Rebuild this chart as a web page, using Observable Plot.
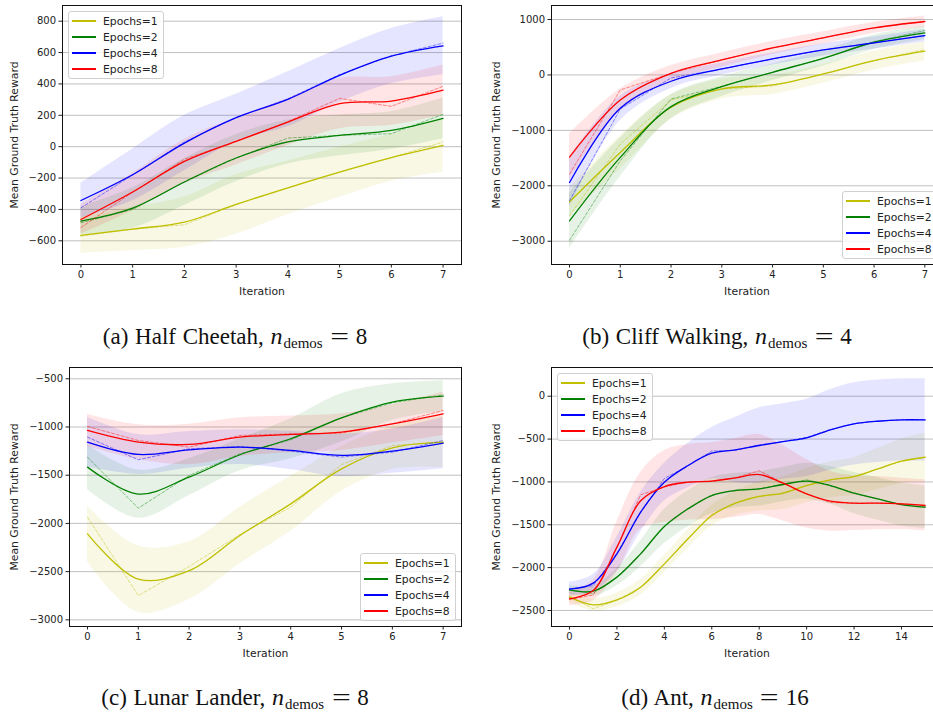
<!DOCTYPE html>
<html><head><meta charset="utf-8">
<script src="https://cdn.jsdelivr.net/npm/d3@7"></script>
<script src="https://cdn.jsdelivr.net/npm/@observablehq/plot@0.6"></script>
<style>
html,body{margin:0;padding:0;background:#fff;width:933px;height:713px;overflow:hidden;}
#root{position:relative;width:933px;height:713px;overflow:hidden;}
.panel{position:absolute;height:300px;}
.panel > svg{max-width:none !important;display:block;}
.legend{position:absolute;background:rgba(255,255,255,0.8);border:1px solid #d0d0d0;border-radius:3px;font-family:"DejaVu Sans";font-size:10.8px;color:#222;box-sizing:border-box;}
.legend .row{position:absolute;left:3px;height:16px;display:flex;align-items:center;white-space:nowrap;}
.legend svg{margin-right:7px;}
.caption{position:absolute;font-family:"Liberation Serif","Times New Roman",serif;font-size:23px;line-height:23px;word-spacing:1px;white-space:nowrap;transform:translateX(-50%);color:#111;}
.caption sub{font-size:15px;line-height:0;vertical-align:-4px;margin-left:1px;}
.caption i{font-style:italic;font-size:24px;}
.caption .eq{display:inline-block;width:20px;margin:0 6px 0 7px;text-align:center;transform:scaleX(1.45);}
</style></head><body><div id="root"></div><script>
// ---------- data ----------
const seriesNames = ["Epochs=1", "Epochs=2", "Epochs=4", "Epochs=8"];
const seriesColors = ["#bfbf00", "#008000", "#0000ff", "#ff0000"];

const xTicks8 = [0, 1, 2, 3, 4, 5, 6, 7];
const xTicksAnt = [0, 2, 4, 6, 8, 10, 12, 14];
const iters8 = [0, 1, 2, 3, 4, 5, 6, 7];
const itersAnt = [0, 1, 2, 3, 4, 5, 6, 7, 8, 9, 10, 11, 12, 13, 14, 15];

// (a) Half Cheetah
const hcYTicks = [-600, -400, -200, 0, 200, 400, 600, 800];
const hc1Smooth = [-566, -525, -481, -368, -262, -162, -70, 8];
const hc1Raw = [-570, -525, -498, -370, -262, -162, -70, 30];
const hc1Std = [114, 137, 160, 190, 170, 160, 150, 170];
const hc2Smooth = [-474, -391, -225, -72, 30, 72, 104, 181];
const hc2Raw = [-485, -400, -225, -72, 55, 72, 83, 206];
const hc2Std = [90, 130, 150, 150, 140, 130, 120, 130];
const hc4Smooth = [-343, -179, 23, 185, 302, 455, 577, 643];
const hc4Raw = [-390, -180, 30, 185, 305, 460, 580, 660];
const hc4Std = [111, 165, 177, 150, 175, 171, 176, 185];
const hc8Smooth = [-464, -289, -94, 34, 157, 274, 291, 360];
const hc8Raw = [-515, -290, -80, 35, 160, 308, 257, 385];
const hc8Std = [95, 120, 140, 150, 150, 160, 155, 160];

// (b) Cliff Walking
const cwYTicks = [-3000, -2000, -1000, 0, 1000];
const cw1Smooth = [-2289, -1398, -584, -253, -181, 18, 259, 428];
const cw1Raw = [-2542, -1247, -452, -253, -200, 18, 259, 458];
const cw1Std = [250, 300, 220, 180, 170, 170, 170, 170];
const cw2Smooth = [-2633, -1488, -572, -211, 48, 301, 590, 759];
const cw2Raw = [-2982, -1548, -434, -205, 48, 301, 600, 800];
const cw2Std = [500, 350, 220, 180, 150, 140, 130, 120];
const cw4Smooth = [-1940, -602, -114, 108, 289, 452, 578, 711];
const cw4Raw = [-2271, -614, -54, 108, 289, 452, 578, 711];
const cw4Std = [450, 220, 130, 110, 110, 110, 110, 110];
const cw8Smooth = [-1482, -452, 30, 271, 488, 669, 849, 964];
const cw8Raw = [-1789, -271, 30, 271, 488, 669, 849, 964];
const cw8Std = [420, 200, 140, 130, 120, 110, 100, 100];

// (c) Lunar Lander
const llYTicks = [-3000, -2500, -2000, -1500, -1000, -500];
const ll1Smooth = [-2108, -2578, -2490, -2125, -1797, -1434, -1216, -1157];
const ll1Raw = [-1935, -2748, -2447, -2115, -1831, -1389, -1192, -1157];
const ll1Std = [290, 345, 300, 293, 285, 233, 225, 268];
const ll2Smooth = [-1416, -1696, -1520, -1288, -1122, -905, -742, -680];
const ll2Raw = [-1313, -1842, -1503, -1278, -1133, -905, -749, -666];
const ll2Std = [233, 250, 190, 165, 207, 250, 190, 160];
const ll4Smooth = [-1157, -1285, -1237, -1209, -1243, -1295, -1250, -1167];
const ll4Raw = [-1105, -1340, -1226, -1202, -1250, -1312, -1261, -1140];
const ll4Std = [259, 207, 190, 180, 200, 220, 230, 265];
const ll8Smooth = [-1036, -1157, -1181, -1105, -1077, -1053, -967, -863];
const ll8Raw = [-994, -1140, -1209, -1088, -1071, -1064, -967, -829];
const ll8Std = [165, 180, 210, 200, 190, 190, 200, 225];

// (d) Ant
const antYTicks = [-2500, -2000, -1500, -1000, -500, 0];
const ant1Smooth = [-2345, -2434, -2376, -2228, -1956, -1664, -1392, -1248, -1170, -1131, -1042, -976, -937, -848, -758, -712];
const ant1Raw = [-2330, -2480, -2380, -2230, -1960, -1660, -1380, -1250, -1170, -1140, -1040, -975, -935, -850, -760, -712];
const ant1Std = [60, 70, 80, 90, 100, 110, 120, 140, 170, 190, 200, 210, 220, 240, 260, 280];
const ant2Smooth = [-2259, -2275, -2111, -1839, -1520, -1314, -1159, -1100, -1081, -1030, -991, -1042, -1131, -1198, -1264, -1295];
const ant2Raw = [-2260, -2300, -2110, -1840, -1520, -1310, -1150, -1100, -1080, -1030, -975, -1045, -1130, -1200, -1265, -1295];
const ant2Std = [50, 60, 100, 150, 200, 210, 210, 200, 200, 200, 210, 220, 240, 250, 250, 250];
const ant4Smooth = [-2251, -2181, -1839, -1353, -1003, -809, -665, -626, -575, -529, -486, -393, -323, -292, -276, -276];
const ant4Raw = [-2250, -2210, -1830, -1360, -960, -810, -640, -630, -570, -530, -480, -390, -320, -290, -276, -276];
const ant4Std = [80, 100, 200, 230, 220, 260, 300, 380, 440, 440, 450, 470, 480, 480, 480, 480];
const ant8Smooth = [-2364, -2267, -1761, -1220, -1054, -1003, -991, -953, -914, -1015, -1139, -1225, -1248, -1248, -1256, -1275];
const ant8Raw = [-2370, -2320, -1760, -1150, -1060, -1000, -990, -950, -870, -1010, -1140, -1240, -1248, -1248, -1256, -1275];
const ant8Std = [80, 120, 300, 330, 420, 440, 450, 460, 467, 440, 400, 350, 320, 310, 300, 300];

// ---------- drawing ----------
const root = document.getElementById("root");
const fmt = d => d < 0 ? "\u2212" + (-d) : String(d);

function buildSeries(iters, smooths, raws, stds) {
  return seriesNames.map((name, k) => ({
    name, color: seriesColors[k],
    rows: iters.map((it, i) => ({
      it, sm: smooths[k][i], raw: raws[k][i],
      lo: smooths[k][i] - stds[k][i], hi: smooths[k][i] + stds[k][i]
    }))
  }));
}

function panel(cfg) {
  const marks = [Plot.gridY(cfg.yTicks, {stroke: "#b0b0b0", strokeOpacity: 1, strokeWidth: 0.8})];
  for (const s of cfg.series) {
    marks.push(Plot.areaY(s.rows, {x: "it", y1: "lo", y2: "hi", fill: s.color, fillOpacity: 0.1, curve: "catmull-rom"}));
  }
  for (const s of cfg.series) {
    marks.push(Plot.lineY(s.rows, {x: "it", y: "raw", stroke: s.color, strokeOpacity: 0.45, strokeWidth: 1, strokeDasharray: "3,2"}));
    marks.push(Plot.lineY(s.rows, {x: "it", y: "sm", stroke: s.color, strokeWidth: 1.3, curve: "catmull-rom"}));
  }
  marks.push(Plot.frame({stroke: "#111", strokeWidth: 1}));
  marks.push(Plot.axisX(cfg.xTicks, {tickSize: 3.5, tickPadding: 3, label: null, tickFormat: fmt}));
  marks.push(Plot.axisY(cfg.yTicks, {tickSize: 3.5, tickPadding: 3, label: null, tickFormat: fmt}));
  marks.push(Plot.text(["Iteration"], {text: d => d, frameAnchor: "bottom", dy: 27, textAnchor: "middle", lineAnchor: "middle", fontSize: 10.8, fill: "#222"}));
  marks.push(Plot.text(["Mean Ground Truth Reward"], {text: d => d, frameAnchor: "left", dx: cfg.labelDx, rotate: -90, textAnchor: "middle", lineAnchor: "middle", fontSize: 10.8, fill: "#222"}));
  const svg = Plot.plot({
    width: cfg.width, height: cfg.height,
    marginLeft: cfg.mL, marginRight: cfg.mR, marginTop: cfg.mT, marginBottom: cfg.mB,
    x: {domain: cfg.xDomain},
    y: {domain: cfg.yDomain},
    style: {fontFamily: "DejaVu Sans", fontSize: "10px", color: "#222", background: "transparent", overflow: "visible", maxWidth: "none"},
    marks
  });
  const div = document.createElement("div");
  div.className = "panel";
  div.style.left = cfg.left + "px";
  div.style.top = cfg.top + "px";
  div.style.width = cfg.width + "px";
  div.appendChild(svg);
  root.appendChild(div);
}

function legend(left, top) {
  const box = document.createElement("div");
  box.className = "legend";
  box.style.left = left + "px";
  box.style.top = top + "px";
  box.style.width = "96px";
  box.style.height = "68px";
  seriesNames.forEach((name, k) => {
    const row = document.createElement("div");
    row.className = "row";
    row.style.top = (1 + 16 * k) + "px";
    row.innerHTML = `<svg width="24" height="4"><line x1="0" y1="2" x2="24" y2="2" stroke="${seriesColors[k]}" stroke-width="2"/></svg><span>${name}</span>`;
    box.appendChild(row);
  });
  root.appendChild(box);
}

function caption(cx, baseline, html) {
  const d = document.createElement("div");
  d.className = "caption";
  d.style.left = cx + "px";
  d.style.top = (baseline - 19.3) + "px";
  d.innerHTML = html;
  root.appendChild(d);
}

panel({left: 0, top: 0, width: 466, height: 300, mL: 62, mR: 5, mT: 5, mB: 36,
  xDomain: [-0.356, 7.356], yDomain: [-751, 900], xTicks: xTicks8, yTicks: hcYTicks, labelDx: -48,
  series: buildSeries(iters8, [hc1Smooth, hc2Smooth, hc4Smooth, hc8Smooth], [hc1Raw, hc2Raw, hc4Raw, hc8Raw], [hc1Std, hc2Std, hc4Std, hc8Std])});
panel({left: 470, top: 0, width: 477, height: 300, mL: 81, mR: 5, mT: 5, mB: 36,
  xDomain: [-0.355, 7.348], yDomain: [-3420, 1253], xTicks: xTicks8, yTicks: cwYTicks, labelDx: -55,
  series: buildSeries(iters8, [cw1Smooth, cw2Smooth, cw4Smooth, cw8Smooth], [cw1Raw, cw2Raw, cw4Raw, cw8Raw], [cw1Std, cw2Std, cw4Std, cw8Std])});
panel({left: 0, top: 361, width: 466, height: 300, mL: 69, mR: 5, mT: 6, mB: 35,
  xDomain: [-0.354, 7.361], yDomain: [-3069, -383], xTicks: xTicks8, yTicks: llYTicks, labelDx: -55,
  series: buildSeries(iters8, [ll1Smooth, ll2Smooth, ll4Smooth, ll8Smooth], [ll1Raw, ll2Raw, ll4Raw, ll8Raw], [ll1Std, ll2Std, ll4Std, ll8Std])});
panel({left: 470, top: 361, width: 477, height: 300, mL: 81, mR: 5, mT: 6, mB: 35,
  xDomain: [-0.759, 15.73], yDomain: [-2687, 335], xTicks: xTicksAnt, yTicks: antYTicks, labelDx: -55,
  series: buildSeries(itersAnt, [ant1Smooth, ant2Smooth, ant4Smooth, ant8Smooth], [ant1Raw, ant2Raw, ant4Raw, ant8Raw], [ant1Std, ant2Std, ant4Std, ant8Std])});

legend(68, 11);
legend(842, 191);
legend(360, 553);
legend(557, 373);

caption(235, 344.5, "(a) Half Cheetah, <i>n</i><sub>demos</sub><span class=\"eq\">=</span>8");
caption(717, 344.5, "(b) Cliff Walking, <i>n</i><sub>demos</sub><span class=\"eq\">=</span>4");
caption(235, 705.5, "(c) Lunar Lander, <i>n</i><sub>demos</sub><span class=\"eq\">=</span>8");
caption(715, 705.5, "(d) Ant, <i>n</i><sub>demos</sub><span class=\"eq\">=</span>16");
</script></body></html>
